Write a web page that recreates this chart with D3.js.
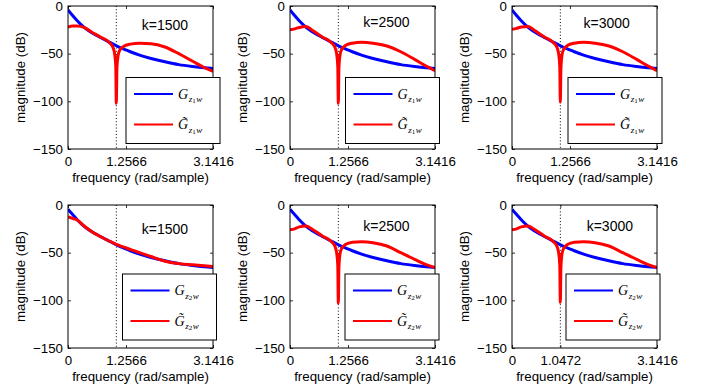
<!DOCTYPE html>
<html>
<head>
<meta charset="utf-8">
<script src="https://cdn.jsdelivr.net/npm/d3@7"></script>
<style>
  html, body { margin: 0; padding: 0; background: #fff; }
  svg { display: block; }
  text { font-family: "Liberation Sans", Arial, Helvetica, sans-serif; fill: #000; }
</style>
</head>
<body>
<svg id="fig" width="704" height="387"></svg>
<script>
// Frequency grid (rad/sample), denser around the notch at pi/3
const freq = [0, 0.1, 0.2, 0.35, 0.5, 0.7, 0.9, 0.97, 1.01, 1.035, 1.047, 1.06, 1.085, 1.12, 1.2, 1.35, 1.55, 1.8, 2.1, 2.4, 2.7, 2.95, 3.1416];

// True closed-loop responses |G_{z1w}| and |G_{z2w}| in dB
const gz1w = [-4, -10, -15.5, -22.5, -27.5, -33, -38, -39.7, -40.7, -41.4, -41.7, -42, -42.6, -43.4, -45, -48, -51.5, -55, -58.5, -61.5, -63.5, -64.8, -65.5];
const gz2w = [-4.5, -10, -15.5, -22.5, -27.5, -33, -38, -39.7, -40.7, -41.4, -41.7, -42, -42.6, -43.4, -45, -48, -51.5, -55, -58.5, -61.5, -63.5, -64.8, -65.5];

// Identified responses (tilde) for each k
const gt1_1500 = [-22, -21, -21, -22.5, -27, -32.5, -38.5, -43, -50, -63, -102, -65, -52, -46.5, -42.5, -40, -39, -39.5, -43, -50, -58, -64.5, -68.5];
const gt1_2500 = [-25, -24, -22.5, -21.5, -26, -32.5, -38.5, -43, -50, -63, -102, -65, -51, -45.5, -41.5, -39, -38, -39, -42, -48, -56, -63, -68];
const gt1_3000 = [-24.5, -23.5, -22, -21.5, -26, -32.5, -38.5, -43, -50, -63, -101, -65, -51, -45.5, -41.5, -39, -38, -39, -42, -48, -56, -63, -68];
const gt2_1500 = [-12.5, -14, -15.8, -22, -27.5, -33, -38, -39.6, -40.5, -41, -41.3, -41.6, -42, -42.6, -44, -46.5, -50, -54, -59, -61.5, -62.8, -63.8, -64.5];
const gt2_2500 = [-26, -25, -23, -22, -26, -32.5, -38.5, -43, -50, -63, -103, -65, -51, -45.5, -41.5, -39, -38.5, -39.5, -43, -50, -57, -62.5, -65.5];
const gt2_3000 = [-26, -25, -23, -22, -26, -32.5, -38.5, -43, -50, -63, -102, -65, -51, -45.5, -41.5, -39, -38.5, -39.5, -43, -50, -57, -62.5, -65.5];

const kLabels = ["k=1500", "k=2500", "k=3000"];
const yTicks = [0, -50, -100, -150];
const yTickLabels = ["0", "\u221250", "\u2212100", "\u2212150"];
const xTicksA = [0, 1.2566, 3.1416];
const xTickLabelsA = ["0", "1.2566", "3.1416"];
const xTicksB = [0, 1.0472, 3.1416];
const xTickLabelsB = ["0", "1.0472", "3.1416"];
const notchFreq = 1.0472;

// Panel layout
const colX = [68, 290, 512];
const rowY = [6, 205];
const plotW = 145, plotH = 143;

const panels = [
  { row: 0, col: 0, blue: gz1w, red: gt1_1500, k: kLabels[0], idx: "1", xt: xTicksA, xl: xTickLabelsA, legDx: 7, kx: 2.1, ky: -19.5 },
  { row: 0, col: 1, blue: gz1w, red: gt1_2500, k: kLabels[1], idx: "1", xt: xTicksA, xl: xTickLabelsA, legDx: 4.5, kx: 2.09, ky: -17 },
  { row: 0, col: 2, blue: gz1w, red: gt1_3000, k: kLabels[2], idx: "1", xt: xTicksA, xl: xTickLabelsA, legDx: 5, kx: 2.05, ky: -17.5 },
  { row: 1, col: 0, blue: gz2w, red: gt2_1500, k: kLabels[0], idx: "2", xt: xTicksA, xl: xTickLabelsA, legDx: 3.5, kx: 2.1, ky: -25.5 },
  { row: 1, col: 1, blue: gz2w, red: gt2_2500, k: kLabels[1], idx: "2", xt: xTicksA, xl: xTickLabelsA, legDx: 4, kx: 2.09, ky: -22.5 },
  { row: 1, col: 2, blue: gz2w, red: gt2_3000, k: kLabels[2], idx: "2", xt: xTicksB, xl: xTickLabelsB, legDx: 3, kx: 2.12, ky: -22.5 }
];

const svg = d3.select("#fig");
const defs = svg.append("defs");

panels.forEach((p, i) => {
  const x0 = colX[p.col], y0 = rowY[p.row];
  const x = d3.scaleLinear().domain([0, Math.PI]).range([x0, x0 + plotW]);
  const y = d3.scaleLinear().domain([-150, 0]).range([y0 + plotH, y0]);

  const g = svg.append("g");

  // plot area background
  g.append("rect").attr("x", x0).attr("y", y0).attr("width", plotW).attr("height", plotH)
    .attr("fill", "#fff");

  defs.append("clipPath").attr("id", "clip" + i)
    .append("rect").attr("x", x0).attr("y", y0).attr("width", plotW).attr("height", plotH);

  // dotted marker at the notch frequency
  g.append("line")
    .attr("x1", x(notchFreq)).attr("x2", x(notchFreq))
    .attr("y1", y(0)).attr("y2", y(-150))
    .attr("stroke", "#000").attr("stroke-width", 1).attr("stroke-dasharray", "1,2.2");

  const line = (vals) => d3.line()
    .x((d, j) => x(freq[j]))
    .y(d => y(d))
    .curve(d3.curveMonotoneX)(vals);

  const curves = g.append("g").attr("clip-path", `url(#clip${i})`);
  curves.append("path").attr("d", line(p.blue))
    .attr("fill", "none").attr("stroke", "#0000ff").attr("stroke-width", 3)
    .attr("stroke-linejoin", "round");
  curves.append("path").attr("d", line(p.red))
    .attr("fill", "none").attr("stroke", "#ff0000").attr("stroke-width", 3)
    .attr("stroke-linejoin", "round");

  // axes with inward ticks (all four sides)
  const fontSize = "13.3px";
  const ax = g.append("g").attr("transform", `translate(0,${y0 + plotH})`)
    .call(d3.axisBottom(x).tickValues(p.xt).tickFormat((d, j) => p.xl[j]).tickSizeInner(-3).tickSizeOuter(0).tickPadding(7.5));
  const ay = g.append("g").attr("transform", `translate(${x0},0)`)
    .call(d3.axisLeft(y).tickValues(yTicks).tickFormat((d, j) => yTickLabels[j]).tickSizeInner(-3).tickSizeOuter(0).tickPadding(5));
  const at = g.append("g").attr("transform", `translate(0,${y0})`)
    .call(d3.axisTop(x).tickValues(p.xt).tickFormat("").tickSizeInner(-3).tickSizeOuter(0));
  const ar = g.append("g").attr("transform", `translate(${x0 + plotW},0)`)
    .call(d3.axisRight(y).tickValues(yTicks).tickFormat("").tickSizeInner(-3).tickSizeOuter(0));
  [ax, ay, at, ar].forEach(a => {
    a.select(".domain").remove();
    a.selectAll("line").attr("stroke", "#000").attr("stroke-width", 0.8);
    a.selectAll("text").attr("font-size", fontSize).attr("font-family", "Liberation Sans, Arial, sans-serif").attr("fill", "#000");
  });

  // axes box
  g.append("rect").attr("x", x0).attr("y", y0).attr("width", plotW).attr("height", plotH)
    .attr("fill", "none").attr("stroke", "#000").attr("stroke-width", 1);

  // axis titles
  g.append("text").attr("x", x0 + plotW / 2).attr("y", y0 + plotH + 33)
    .attr("text-anchor", "middle").attr("font-size", fontSize)
    .text("frequency (rad/sample)");
  g.append("text")
    .attr("transform", `translate(${x0 - 43},${y0 + plotH / 2}) rotate(-90)`)
    .attr("text-anchor", "middle").attr("font-size", fontSize)
    .text("magnitude (dB)");

  // k annotation
  g.append("text").attr("x", x(p.kx)).attr("y", y(p.ky) + 5)
    .attr("text-anchor", "middle").attr("font-size", "14px")
    .text(p.k);

  // legend
  const lw = 94, lh = 66;
  const lx = x0 + plotW + p.legDx - lw;
  const ly = p.row === 0 ? y0 + 71.5 : y0 + 69;
  const leg = g.append("g");
  leg.append("rect").attr("x", lx).attr("y", ly).attr("width", lw).attr("height", lh)
    .attr("fill", "#fff").attr("stroke", "#000").attr("stroke-width", 1);
  const entries = [
    { color: "#0000ff", sym: "G", dy: 16.5 },
    { color: "#ff0000", sym: "G\u0303", dy: 47 }
  ];
  entries.forEach(e => {
    const cy = ly + e.dy;
    leg.append("line").attr("x1", lx + 8).attr("x2", lx + 47).attr("y1", cy).attr("y2", cy)
      .attr("stroke", e.color).attr("stroke-width", 2.2);
    const t = leg.append("text").attr("x", lx + 52).attr("y", cy + 4.5)
      .style("font-family", "'Liberation Serif', 'DejaVu Serif', serif");
    t.append("tspan").attr("font-size", "14px").attr("font-style", "italic").text(e.sym);
    t.append("tspan").attr("font-size", "9px").attr("font-style", "italic").attr("dy", 3.5).attr("dx", 0.5).text("z");
    t.append("tspan").attr("font-size", "7px").attr("dy", 1).text(p.idx);
    t.append("tspan").attr("font-size", "9px").attr("font-style", "italic").attr("dy", -1).attr("dx", 0.5).text("w");
  });
});
</script>
</body>
</html>
